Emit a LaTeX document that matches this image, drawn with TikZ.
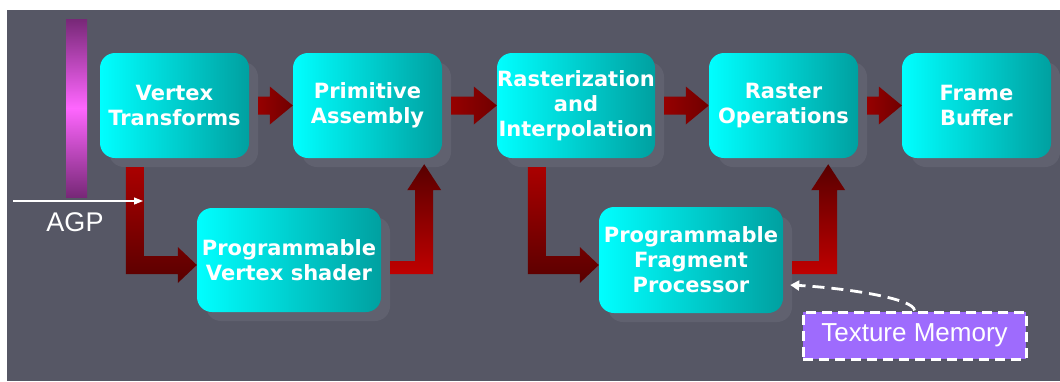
\documentclass[tikz,border=0pt]{standalone}
\usepackage{fontspec}
\newfontfamily\stagefont{DejaVu Sans}
\newfontfamily\plainfont{Liberation Sans}
\usetikzlibrary{arrows.meta,calc,shadows}

\definecolor{panelgray}{HTML}{565765}
\definecolor{shadegray}{HTML}{60616F}
\definecolor{stagecyan}{HTML}{00FFFF}
\definecolor{stageteal}{HTML}{00A0A0}
\definecolor{flowred}{HTML}{960000}
\definecolor{flowdark}{HTML}{700000}
\definecolor{arrowred}{HTML}{AA0000}
\definecolor{arrowbright}{HTML}{C00000}
\definecolor{arrowdark}{HTML}{580000}
\definecolor{barpurple}{HTML}{772877}
\definecolor{barpink}{HTML}{FF66FF}
\definecolor{memviolet}{HTML}{9E6BFD}

\tikzset{
  stage/.style={rounded corners=15pt, left color=stagecyan, right color=stageteal,
    text=white, font=\stagefont\bfseries\fontsize{21}{25}\selectfont, align=center,
    minimum width=149pt, minimum height=105pt, inner sep=0pt,
    drop shadow={shadow xshift=9pt, shadow yshift=-9pt, fill=shadegray, opacity=1}},
  progstage/.style={stage, minimum width=184pt},
  memorybox/.style={fill=memviolet, draw=white, line width=3pt, dash pattern=on 10pt off 6pt,
    text=white, font=\plainfont\fontsize{26}{30}\selectfont,
    minimum width=223pt, minimum height=47pt, inner sep=0pt},
  memlink/.style={white, line width=2.8pt, dash pattern=on 12pt off 7pt,
    -{Triangle[length=9pt,width=10pt]}},
  agplink/.style={white, line width=1.2pt, -{Triangle[length=9pt,width=7pt]}},
  agplabel/.style={text=white, font=\plainfont\fontsize{27}{30}\selectfont, inner sep=0pt}
}

% straight block arrow between two stages of the top row
\newcommand{\flowarrow}[2]{%
  \shade[left color=flowred, right color=flowdark]
    ($(#1.east)+(9,-9)$) -- ($(#2.west)+(-23,-9)$) -- ($(#2.west)+(-23,-19)$)
    -- (#2.west) -- ($(#2.west)+(-23,19)$) -- ($(#2.west)+(-23,9)$)
    -- ($(#1.east)+(9,9)$) -- cycle;}

% block arrow going down, then right into the lower stage
\newcommand{\elbowdown}[3]{%
  \shade[top color=arrowred, bottom color=arrowdark]
    ($(#1.south west)+(#3-9,9)$) -- ($(#1.south west)+(#3+9,9)$)
    |- ($(#2.west)+(-19,-4)$) -- ($(#2.west)+(-19,-13)$) -- ($(#2.west)+(0,5)$)
    -- ($(#2.west)+(-19,23)$) -- ($(#2.west)+(-19,14)$)
    -| ($(#1.south west)+(#3-9,9)$) -- cycle;}

% block arrow going right, then up into the upper stage
\newcommand{\elbowup}[3]{%
  \shade[top color=arrowdark, bottom color=arrowbright]
    ($(#1.east)+(9,1)$) -| ($(#2.south east)+(-#3-9,32)$) -- ($(#2.south east)+(-#3-17,32)$)
    -- ($(#2.south east)+(-#3,6)$) -- ($(#2.south east)+(-#3+17,32)$)
    -- ($(#2.south east)+(-#3+9,32)$) |- ($(#1.east)+(9,14)$) -- cycle;}

\begin{document}
\begin{tikzpicture}[x=1pt, y=-1pt]
    % Row heights
    \def\toprow{105.5}
    \def\lowrow{260}

    % Panel
    \fill[white] (0,0) rectangle (1060,381);
    \fill[panelgray] (7,10) rectangle (1060,381);
    \useasboundingbox (0,0) rectangle (1060,381);

    % AGP bus bar
    \shade[top color=barpurple, bottom color=barpurple, middle color=barpink] (66,19) rectangle (87,197);

    % Pipeline stages
    \node[stage] (vt) at (174.5,\toprow) {Vertex\\Transforms};
    \node[stage] (pa) at (367.5,\toprow) {Primitive\\Assembly};
    \node[stage, minimum width=158pt] (ri) at (576,\toprow) {Rasterization\\and\\Interpolation};
    \node[stage] (ro) at (783.5,\toprow) {Raster\\Operations};
    \node[stage] (fb) at (976.5,\toprow) {Frame\\Buffer};
    \node[progstage, minimum height=104pt] (vs) at (289,\lowrow) {Programmable\\Vertex shader};
    \node[progstage, minimum height=106pt] (fp) at (691,\lowrow) {Programmable\\Fragment\\Processor};

    % Block arrows
    \flowarrow{vt}{pa}
    \flowarrow{pa}{ri}
    \flowarrow{ri}{ro}
    \flowarrow{ro}{fb}
    \elbowdown{vt}{vs}{35}
    \elbowdown{ri}{fp}{40}
    \elbowup{vs}{pa}{18}
    \elbowup{fp}{ro}{30}

    % AGP input
    \coordinate (agpin) at (13,201);
    \coordinate (agpend) at (143,201);
    \draw[agplink] (agpin) -- (agpend);
    \node[agplabel] (agp) at (75,222) {AGP};

    % Texture memory feeding the fragment processor
    \node[memorybox] (tm) at (914.5,335.5) {Texture Memory};
    \coordinate (fptex) at ($(fp.east)+(7,25)$);
    \draw[memlink] (tm.north) .. controls +(0,-12) and +(55,3) .. (fptex);
\end{tikzpicture}
\end{document}
